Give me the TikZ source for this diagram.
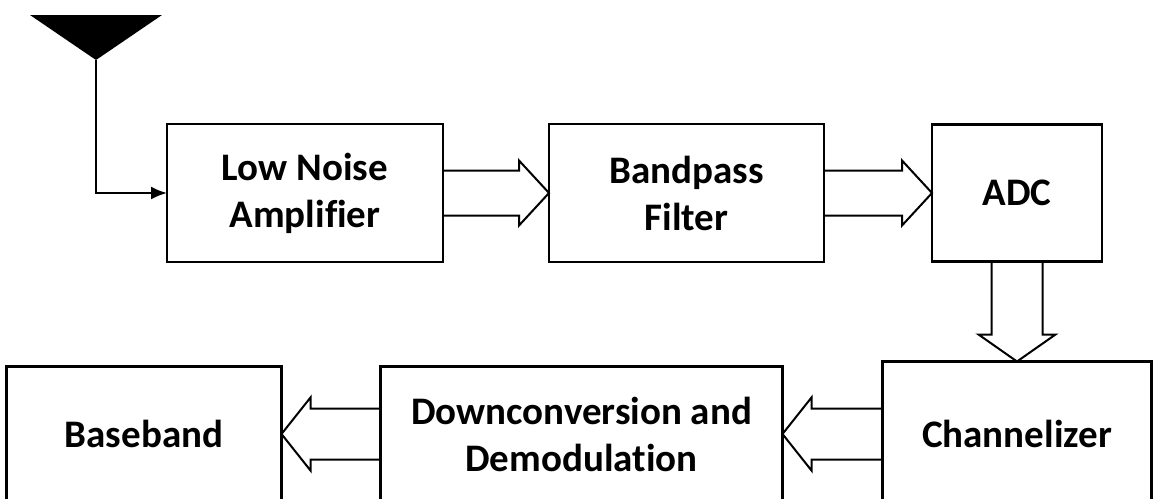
\documentclass[tikz,border=0pt]{standalone}
\usepackage{fontspec}
\setmainfont{Carlito}[Ligatures=NoCommon]
\usepackage{tikz}
\usetikzlibrary{positioning, calc, arrows.meta}
\tikzstyle{block} = [rectangle, draw=black, line width=2.2pt, inner sep=0pt, outer sep=0pt, align=center, font=\fontsize{39}{47}\selectfont\bfseries]
\tikzstyle{hollow} = [draw=black, line width=2pt, line join=miter]
\tikzstyle{feed} = [line width=2pt, -{Latex[length=16pt,width=13pt]}]

\begin{document}
\begin{tikzpicture}[x=1pt, y=-1pt]
	\useasboundingbox (0,0) rectangle (1156,498);
	% antenna
	\fill (30,15) -- (162,15) -- (96,60) coordinate (ant) -- cycle;

	\node[block, minimum width=276pt, minimum height=138pt] (lna) at (305,193) {Low Noise\\Amplifier};
	\node[block, minimum width=275pt, minimum height=138pt, right=106pt of lna] (bpf) {Bandpass\\Filter};
	\node[block, minimum width=170pt, minimum height=137pt, right=108pt of bpf] (adc) {ADC};
	\node[block, minimum width=269pt, minimum height=145pt, below=100pt of adc] (chan) {Channelizer};
	\node[block, minimum width=402pt, minimum height=135pt, left=100pt of chan] (down) {Downconversion and\\Demodulation};
	\node[block, minimum width=275pt, minimum height=135pt, left=99pt of down] (base) {Baseband};

	\draw[feed] (ant) |- (lna.west);

	% block arrows
	\draw[hollow] ($(lna.east |- bpf.west)+(0,-22.5)$) -- ($(bpf.west)+(-30,-22.5)$) -- ++(0,-10) -- (bpf.west) -- ++(-30,32.5) -- ++(0,-10) -- ($(lna.east |- bpf.west)+(0,22.5)$);
	\draw[hollow] ($(bpf.east |- adc.west)+(0,-22.5)$) -- ($(adc.west)+(-30,-22.5)$) -- ++(0,-10) -- (adc.west) -- ++(-30,32.5) -- ++(0,-10) -- ($(bpf.east |- adc.west)+(0,22.5)$);
	\draw[hollow] ($(adc.south)+(-25.5,0)$) -- ($(chan.north -| adc.south)+(-25.5,-27)$) -- ++(-13,0) -- (chan.north -| adc.south) -- ++(38.5,-27) -- ++(-13,0) -- ($(adc.south)+(25.5,0)$);
	\draw[hollow] ($(chan.west)+(0,-25.5)$) -- ($(down.east)+(29,-25.5)$) -- ++(0,-11) -- (down.east) -- ++(29,36.5) -- ++(0,-11) -- ($(chan.west)+(0,25.5)$);
	\draw[hollow] ($(down.west)+(0,-25.5)$) -- ($(base.east)+(29,-25.5)$) -- ++(0,-11) -- (base.east) -- ++(29,36.5) -- ++(0,-11) -- ($(down.west)+(0,25.5)$);
\end{tikzpicture}
\end{document}
